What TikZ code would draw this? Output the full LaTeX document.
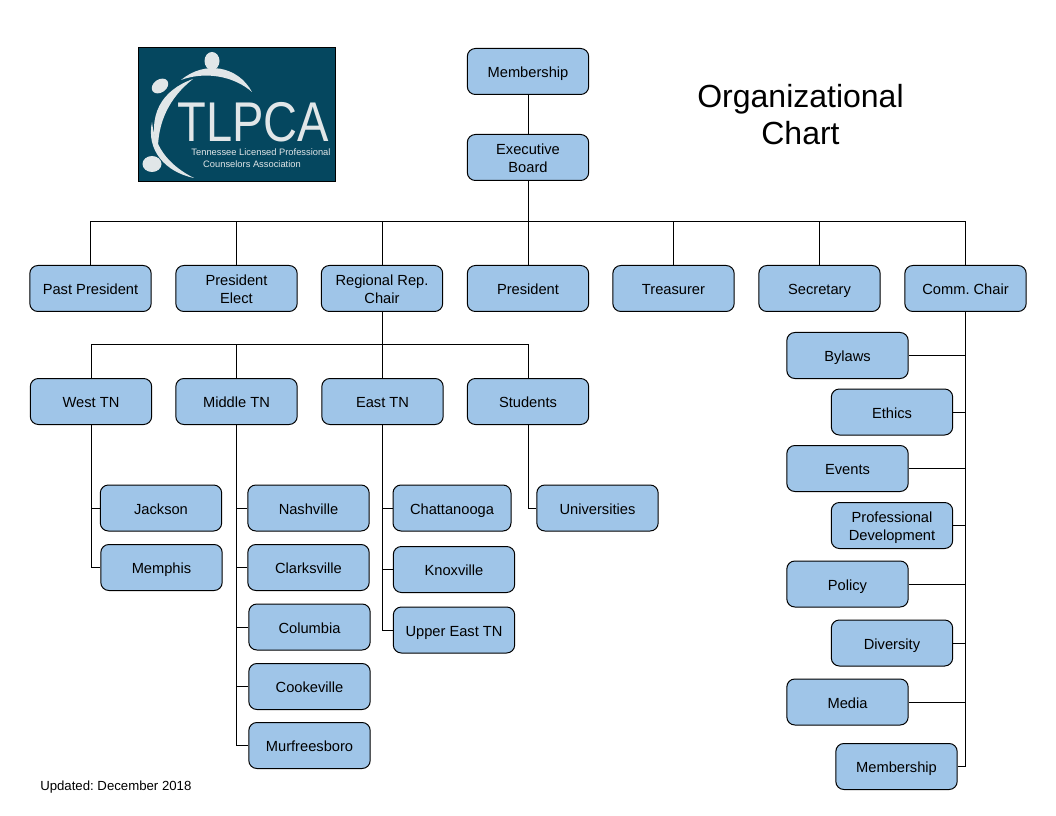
\documentclass[tikz,border=0pt]{standalone}
\usepackage{fontspec}
\setmainfont{Liberation Sans}
\usepackage{xcolor}
\usetikzlibrary{positioning}
\definecolor{boxblue}{HTML}{9FC5E8}
\definecolor{logoblue}{HTML}{05475F}
\definecolor{logolight}{HTML}{E1E6E8}
\newcommand{\boxstrut}{\rule[-2.8pt]{0pt}{14.8pt}}
\frenchspacing

\begin{document}
\begin{tikzpicture}[
  x=0.75pt, y=-0.75pt,
  font=\fontsize{11}{13.5}\selectfont,
  st/.style={draw, line width=0.75pt, fill=boxblue, rounded corners=6pt, align=center, minimum width=91pt, minimum height=34.5pt, inner sep=1pt, execute at begin node=\boxstrut, execute at end node=\boxstrut},
  twolines/.style={execute at begin node=\rule{0pt}{26pt}},
  arr/.style={line width=0.75pt},
  logotext/.style={text=logolight, inner sep=0pt},
]
\useasboundingbox (0,0) rectangle (1056,816);

% logo
\node[draw=black, line width=0.75pt, fill=logoblue, minimum width=148pt, minimum height=101pt, inner sep=0pt] (logo) at (237,114.5) {};
\fill[logolight] (181,80) .. controls (205,60) and (238,66) .. (252,92) .. controls (234,76) and (205,71) .. (181,80) -- cycle;
\fill[logolight] (193,79) .. controls (162,90) and (146,115) .. (158,153) .. controls (157,122) and (170,97) .. (193,79) -- cycle;
\fill[logolight] (152,122) .. controls (146,150) and (165,172) .. (194,178) .. controls (172,167) and (155,150) .. (152,122) -- cycle;
\fill[logolight] (212,61) ellipse (7.5 and 9);
\fill[logolight, rotate around={35:(160,86)}] (160,86) ellipse (9 and 6.5);
\fill[logolight] (152,164) ellipse (9.5 and 8);
\node[logotext, font=\fontsize{42}{42}\selectfont, xscale=0.84] (tlpca) at (253.5,122.5) {TLPCA};
\node[logotext, font=\fontsize{7}{7}\selectfont] (logoline) at (261,152.5) {Tennessee Licensed Professional};
\node[logotext, font=\fontsize{7}{7}\selectfont] (logolinetwo) at (252,164) {Counselors Association};

% title
\node[font=\fontsize{24}{27.75}\selectfont, align=center] (title) at (800.5,114.5) {Organizational\\Chart};
\node[font=\fontsize{9.9}{11}\selectfont, anchor=west, inner sep=0pt] (updated) at (40,787.5) {Updated: December 2018};

% top
\node[st] (member) at (528,71.5) {Membership};
\node[st, twolines] (board) at (528,157.5) {Executive\\Board};
\coordinate (busboard) at (528,222);

% officers
\node[st] (past) at (90.5,288.5) {Past President};
\node[st, twolines] (elect) at (236.5,288.5) {President\\Elect};
\node[st, twolines] (regional) at (382,288.5) {Regional Rep.\\Chair};
\node[st] (president) at (528,288.5) {President};
\node[st] (treasurer) at (673.5,288.5) {Treasurer};
\node[st] (secretary) at (819.5,288.5) {Secretary};
\node[st] (comm) at (965.5,288.5) {Comm. Chair};
\coordinate (busregion) at (382,345);

% regions
\node[st] (west) at (91,401.5) {West TN};
\node[st] (middle) at (236.5,401.5) {Middle TN};
\node[st] (east) at (382.5,401.5) {East TN};
\node[st] (students) at (528,401.5) {Students};

\node[st] (jackson) at (161,508) {Jackson};
\node[st] (memphis) at (161.5,567.5) {Memphis};

\node[st] (nashville) at (308.5,508) {Nashville};
\node[st] (clarksville) at (308.5,567.5) {Clarksville};
\node[st] (columbia) at (309.5,627) {Columbia};
\node[st] (cookeville) at (309.5,686.5) {Cookeville};
\node[st] (murfreesboro) at (309.5,745.5) {Murfreesboro};

\node[st, minimum width=88.5pt] (chattanooga) at (452,508) {Chattanooga};
\node[st] (knoxville) at (454,569.5) {Knoxville};
\node[st] (uppereast) at (454,630) {Upper East TN};

\node[st] (universities) at (597.5,508) {Universities};

% committees
\node[st] (bylaws) at (847.5,355.5) {Bylaws};
\node[st] (ethics) at (892,412) {Ethics};
\node[st] (events) at (847.5,468.5) {Events};
\node[st, twolines] (profdev) at (892,525.5) {Professional\\Development};
\node[st] (policy) at (847.5,584) {Policy};
\node[st] (diversity) at (892,643) {Diversity};
\node[st] (media) at (847.5,702) {Media};
\node[st] (membership) at (896.5,766.5) {Membership};

% connectors
\draw[arr] (member) -- (board);
\draw[arr] (board) -- (busboard);
\foreach \n in {past,elect,regional,president,treasurer,secretary,comm}
  \draw[arr] (busboard) -| (\n.north);
\draw[arr] (regional) -- (busregion);
\foreach \n in {west,middle,east,students}
  \draw[arr] (busregion) -| (\n.north);
\foreach \n in {jackson,memphis}
  \draw[arr] (west.south) |- (\n.west);
\foreach \n in {nashville,clarksville,columbia,cookeville,murfreesboro}
  \draw[arr] (middle.south) |- (\n.west);
\foreach \n in {chattanooga,knoxville,uppereast}
  \draw[arr] (east.south) |- (\n.west);
\draw[arr] (students.south) |- (universities.west);
\foreach \n in {bylaws,ethics,events,profdev,policy,diversity,media,membership}
  \draw[arr] (comm.south) |- (\n.east);
\end{tikzpicture}
\end{document}
